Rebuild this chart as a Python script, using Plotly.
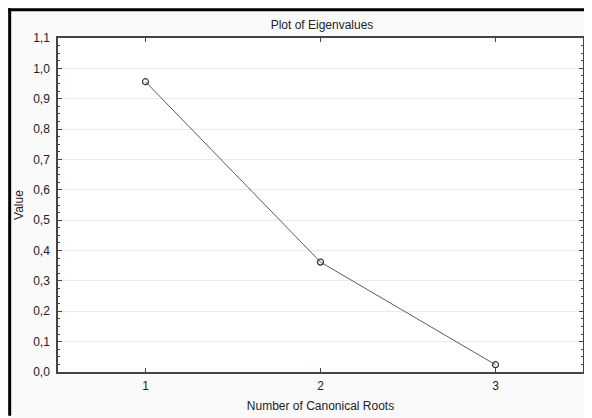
import plotly.graph_objects as go

roots = [1, 2, 3]
eigenvalues = [0.956, 0.362, 0.024]
x_ticks = [1, 2, 3]

# The page body adds an 8px margin; the figure is framed at its top-left edge.
W, H = 584, 410
L, T = 50, 30
pw, ph = 527, 336
R = W - L - pw
B = H - T - ph

def px(xp):
    return (xp - L) / pw

def py(yp):
    return (H - B - yp) / ph

fig = go.Figure()
fig.add_trace(go.Scatter(
    x=roots, y=eigenvalues, mode="lines+markers",
    line=dict(color="#5a5a5a", width=1),
    marker=dict(symbol="circle-open", size=6, color="#333333", line=dict(width=1.2)),
    showlegend=False,
))

font = "Liberation Sans, Arial, sans-serif"
fig.update_layout(
    width=W, height=H,
    margin=dict(l=L, r=R, t=T, b=B),
    paper_bgcolor="#fafafa",
    plot_bgcolor="white",
    separators=",.",
    font=dict(family=font, size=12, color="#222222"),
    title=dict(text="Plot of Eigenvalues", x=314 / W, xanchor="center",
               y=1 - 17 / H, yanchor="middle", font=dict(size=12, color="#222222")),
    xaxis=dict(
        range=[0.5, 3.5], tickvals=x_ticks, ticktext=[str(v) for v in x_ticks],
        showgrid=False, zeroline=False, showline=True, linecolor="#444444", linewidth=1.5,
        mirror="ticks", ticks="inside", ticklen=4, tickcolor="#444444",
        ticklabelstandoff=2,
        title=dict(text="Number of Canonical Roots", standoff=9, font=dict(size=12)),
        tickfont=dict(size=12),
    ),
    yaxis=dict(
        range=[0, 1.1], dtick=0.1, tick0=0, tickformat=".1f",
        showgrid=True, gridcolor="#ebebeb", gridwidth=1, zeroline=False,
        showline=True, linecolor="#444444", linewidth=1.5,
        mirror="ticks", ticks="inside", ticklen=4, tickcolor="#444444",
        ticklabelstandoff=4,
        minor=dict(dtick=0.025, ticks="inside", ticklen=2, tickcolor="#444444", showgrid=False),
        title=dict(text="Value", standoff=7, font=dict(size=12)),
        tickfont=dict(size=12),
    ),
    shapes=[
        dict(type="line", xref="paper", yref="paper", x0=px(0), x1=px(W), y0=py(1.5), y1=py(1.5),
             line=dict(color="black", width=3)),
        dict(type="line", xref="paper", yref="paper", x0=px(1.5), x1=px(1.5), y0=py(0), y1=py(H),
             line=dict(color="black", width=3)),
    ],
)

fig.write_html("out.html", config={"displayModeBar": False})
